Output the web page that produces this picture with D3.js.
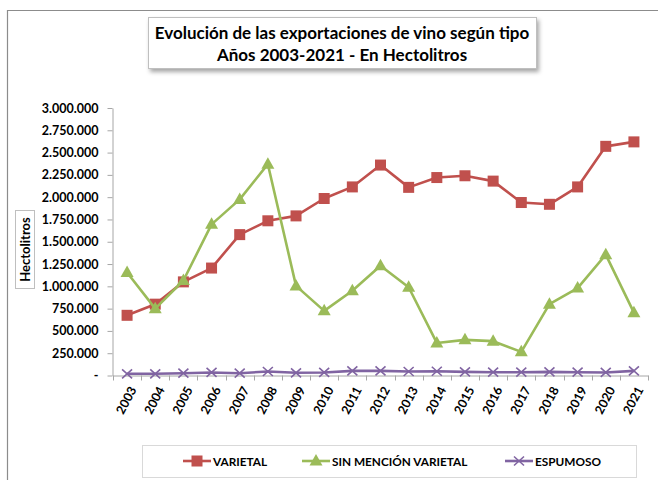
<!DOCTYPE html>
<html><head><meta charset="utf-8">
<script src="https://cdn.jsdelivr.net/npm/d3@7"></script>
<style>
body{margin:0;background:#fff;}
text{font-family:Lato,"Open Sans",sans-serif;}
</style></head>
<body><svg id="c" width="658" height="480"></svg>
<script>
const years = ["2003","2004","2005","2006","2007","2008","2009","2010","2011","2012","2013","2014","2015","2016","2017","2018","2019","2020","2021"];
const varietal = [675000,800000,1050000,1205000,1580000,1735000,1790000,1985000,2115000,2360000,2110000,2220000,2240000,2180000,1940000,1920000,2115000,2570000,2620000];
const sinMencion = [1155000,750000,1065000,1695000,1975000,2370000,1005000,725000,950000,1230000,990000,365000,400000,385000,265000,800000,980000,1355000,705000];
const espumoso = [19000,19000,26000,34000,26000,45000,30000,34000,52000,52000,45000,48000,41000,37000,37000,41000,37000,34000,52000];
const yTicks = [0,250000,500000,750000,1000000,1250000,1500000,1750000,2000000,2250000,2500000,2750000,3000000];
const seriesNames = ["VARIETAL","SIN MENCIÓN VARIETAL","ESPUMOSO"];
const colors = ["#C0504D","#9BBB59","#8064A2"];
const shapes = ["square","triangle","x"];

const svg = d3.select("#c");
// outer frame
svg.append("path").attr("d","M7.5,480 V10.5 H658").attr("fill","none").attr("stroke","#8c8c8c").attr("stroke-width",1.2);

// title box with shadow
const defs = svg.append("defs");
const f = defs.append("filter").attr("id","sh").attr("x","-10%").attr("y","-20%").attr("width","120%").attr("height","150%");
f.append("feDropShadow").attr("dx",2).attr("dy",3).attr("stdDeviation",2).attr("flood-color","#000").attr("flood-opacity",0.35);
svg.append("rect").attr("x",148.5).attr("y",17.5).attr("width",388).attr("height",51).attr("fill","#fff").attr("stroke","#bfbfbf").attr("filter","url(#sh)");
svg.append("text").attr("x",342).attr("y",38.5).attr("text-anchor","middle").attr("font-size",17).attr("font-weight","bold").attr("fill","#000").text("Evolución de las exportaciones de vino según tipo");
svg.append("text").attr("x",342).attr("y",60.5).attr("text-anchor","middle").attr("font-size",17).attr("font-weight","bold").attr("fill","#000").text("Años 2003-2021 - En Hectolitros");

const x = d3.scaleBand().domain(years).range([113,648]);
const y = d3.scaleLinear().domain([0,3000000]).range([375.5,108]);

// y axis
const fmt = v => v===0 ? "-" : d3.format(",")(v).replace(/,/g,".");
const ya = svg.append("g").attr("transform","translate(112.5,0)")
  .call(d3.axisLeft(y).tickValues(yTicks).tickFormat(fmt).tickSize(5).tickSizeOuter(0));
ya.select(".domain").attr("stroke","#a6a6a6");
ya.selectAll(".tick line").attr("stroke","#a6a6a6");
ya.selectAll(".tick text").attr("font-size",12.5).attr("font-weight","bold").attr("fill","#000").attr("x",-14).attr("font-family","Lato, sans-serif");

// x axis
const xa = svg.append("g").attr("transform","translate(0,375.5)")
  .call(d3.axisBottom(x).tickSize(0));
xa.select(".domain").attr("stroke","#a6a6a6");
xa.selectAll(".tick line").remove();
const bounds = years.map(d=>x(d)).concat([x.range()[1]]);
xa.selectAll(".bt").data(bounds).enter().append("line").attr("class","bt")
  .attr("x1",d=>Math.round(d)+0.5).attr("x2",d=>Math.round(d)+0.5).attr("y1",0).attr("y2",5).attr("stroke","#a6a6a6");
xa.selectAll(".tick text").attr("font-size",12.5).attr("font-weight","bold").attr("fill","#000").attr("font-family","Lato, sans-serif")
  .attr("text-anchor","end").attr("dy","0.35em").attr("y",0)
  .attr("transform","translate(6,12) rotate(-62)");

// y title
svg.append("rect").attr("x",15.5).attr("y",210.5).attr("width",19).attr("height",78).attr("fill","#fff").attr("stroke","#bfbfbf");
svg.append("text").attr("transform","translate(29.5,249.5) rotate(-90)").attr("text-anchor","middle").attr("font-size",13).attr("font-weight","bold").text("Hectolitros");

const data = [varietal, sinMencion, espumoso];
const cx = d => x(d)+x.bandwidth()/2;
function marker(g, shape, color, px, py){
  if(shape==="square"){
    g.append("rect").attr("x",px-5.5).attr("y",py-5.5).attr("width",11).attr("height",11).attr("fill",color);
  } else if(shape==="triangle"){
    g.append("path").attr("d",`M${px},${py-7} L${px+6.5},${py+4.5} L${px-6.5},${py+4.5} Z`).attr("fill",color);
  } else {
    g.append("path").attr("d",`M${px-5},${py-4.5} L${px+5},${py+4.5} M${px-5},${py+4.5} L${px+5},${py-4.5}`).attr("stroke",color).attr("stroke-width",1.6).attr("fill","none");
  }
}
const line = d3.line().x((d,i)=>cx(years[i])).y(d=>y(d));
[2,0,1].forEach(k=>{
  const g = svg.append("g");
  g.append("path").datum(data[k]).attr("d",line).attr("fill","none").attr("stroke",colors[k]).attr("stroke-width",2.6).attr("stroke-linejoin","round");
  data[k].forEach((v,i)=>marker(g, shapes[k], colors[k], cx(years[i]), y(v)));
});

// legend
svg.append("rect").attr("x",142.5).attr("y",445.5).attr("width",494).attr("height",32).attr("fill","#fff").attr("stroke","#d9d9d9");
const lx = [183, 302, 505];
seriesNames.forEach((n,k)=>{
  const g = svg.append("g");
  g.append("line").attr("x1",lx[k]).attr("x2",lx[k]+28).attr("y1",461).attr("y2",461).attr("stroke",colors[k]).attr("stroke-width",2.6);
  marker(g, shapes[k], colors[k], lx[k]+14, 461);
  g.append("text").attr("x",lx[k]+30).attr("y",465.5).attr("font-size",11.8).attr("font-weight","bold").text(n);
});
</script></body></html>
